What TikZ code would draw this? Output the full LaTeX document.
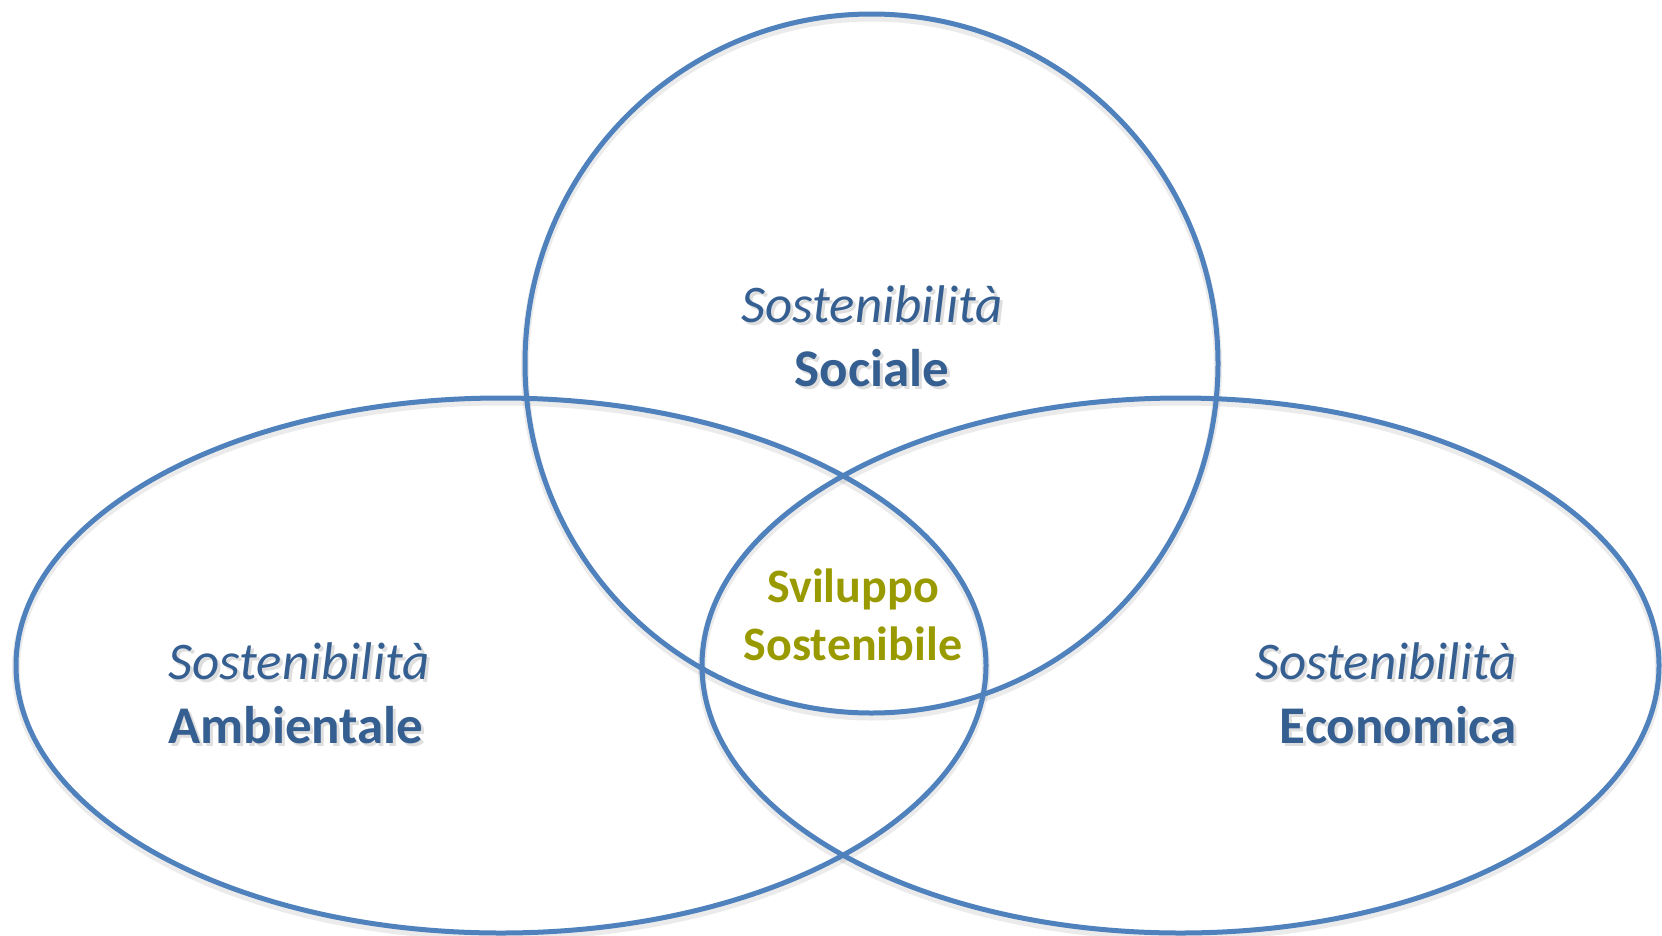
\documentclass[tikz,border=0pt]{standalone}
\usepackage{fontspec}
\setmainfont{Carlito}
\definecolor{ringblue}{HTML}{4F81BD}
\definecolor{textblue}{HTML}{365F91}
\definecolor{olive}{HTML}{999900}
\tikzset{
  ring/.style={draw=ringblue, line width=5pt},
  ringshadow/.style={draw=black, opacity=0.08, line width=8pt},
  lbl/.style={inner sep=0pt, text=textblue, font=\fontsize{53}{64}\selectfont},
  lblshadow/.style={inner sep=0pt, text=black, opacity=0.13, font=\fontsize{53}{64}\selectfont},
}
\begin{document}
\begin{tikzpicture}[x=1pt,y=-1pt]
\useasboundingbox (0,0) rectangle (1662,935);
% soft shadows of rings
\draw[ringshadow] (871.5,367) ellipse [x radius=346.5pt, y radius=349.5pt];
\draw[ringshadow] (501,669) ellipse [x radius=485pt, y radius=267.5pt];
\draw[ringshadow] (1180.5,669) ellipse [x radius=478.5pt, y radius=267.5pt];
% rings
\draw[ring] (871.5,363.5) ellipse [x radius=346.5pt, y radius=349.5pt];
\draw[ring] (501,665.5) ellipse [x radius=485pt, y radius=267.5pt];
\draw[ring] (1180.5,665.5) ellipse [x radius=478.5pt, y radius=267.5pt];
% text shadows
\node[lblshadow, align=center] at (875,339) {\itshape Sostenibilità\\\bfseries Sociale};
\node[lblshadow, align=left] at (302,696) {\itshape Sostenibilità\\\bfseries Ambientale};
\node[lblshadow, align=right] at (1389,696) {\itshape Sostenibilità\\\bfseries Economica};
% labels
\node[lbl, align=center] (soc) at (872,336) {\itshape Sostenibilità\\\bfseries Sociale};
\node[lbl, align=left] (amb) at (299,693) {\itshape Sostenibilità\\\bfseries Ambientale};
\node[lbl, align=right] (eco) at (1386,693) {\itshape Sostenibilità\\\bfseries Economica};
\node[inner sep=0pt, text=olive, align=center, font=\fontsize{48}{58}\selectfont\bfseries] (svi) at (853,615) {Sviluppo\\Sostenibile};
\end{tikzpicture}
\end{document}
